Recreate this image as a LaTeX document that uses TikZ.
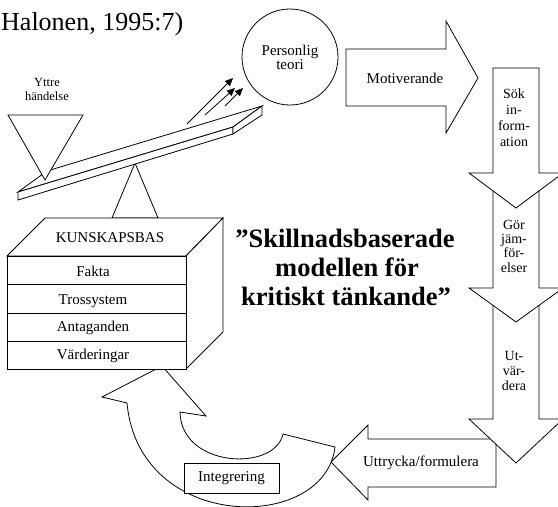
\documentclass[tikz,border=0pt]{standalone}
\usepackage{fontspec}
\setmainfont{Liberation Serif}
\usetikzlibrary{arrows.meta}
\begin{document}
\begin{tikzpicture}[x=1pt,y=-1pt]
\tikzset{
  ln/.style={draw=black, line width=0.8pt, line join=miter},
  shp/.style={ln, fill=white},
  txt/.style={inner sep=0pt, anchor=base, font=\fontsize{15}{18}\selectfont},
  smalltxt/.style={txt, font=\fontsize{12.5}{15}\selectfont},
  coltxt/.style={txt, font=\fontsize{14}{16}\selectfont},
  titletxt/.style={txt, font=\bfseries\fontsize{26.5}{29}\selectfont},
  ptr/.style={ln, -{Triangle[length=8pt,width=7pt]}},
}
\path[use as bounding box] (0,0) rectangle (558,507);
\clip (0,0) rectangle (558,507);

% source line
\node[txt, anchor=base west, font=\fontsize{26}{30}\selectfont] (src) at (1,30) {Halonen, 1995:7)};

% fulcrum
\draw[shp] (135,163) -- (112,218) -- (158,218) -- cycle;
% plank
\draw[shp] (18,192) -- (47,171) -- (262,106) -- (233,127) -- cycle;
\draw[shp] (18,192) -- (233,127) -- (233,134) -- (18,200) -- cycle;
\draw[shp] (233,127) -- (262,106) -- (262,115) -- (233,134) -- cycle;
% weight (Yttre handelse)
\draw[shp] (8,115) -- (83,115) -- (45,180) -- cycle;
\node[smalltxt] (yt1) at (47,86) {Yttre};
\node[smalltxt] (yt2) at (47,100) {händelse};

% small arrows
\coordinate (a1s) at (187,124); \coordinate (a1e) at (233,78);
\coordinate (a2s) at (205,115); \coordinate (a2e) at (235,88);
\coordinate (a3s) at (225,106); \coordinate (a3e) at (243,88);
\draw[ptr] (a1s) -- (a1e);
\draw[ptr] (a2s) -- (a2e);
\draw[ptr] (a3s) -- (a3e);

% personlig teori
\node[shp, circle, minimum size=96pt, inner sep=0pt, align=center,
      font=\fontsize{15}{14}\selectfont] (pt) at (290,57) {Personlig\\teori};

% Motiverande arrow
\draw[shp] (346,49) -- (446,49) -- (446,21) -- (478,78) -- (446,133) -- (446,106) -- (346,106) -- cycle;
\node[txt] (mot) at (405,83) {Motiverande};

% Uttrycka arrow (pointing left)
\draw[shp] (496,439) -- (368,439) -- (368,425) -- (331,462) -- (368,500) -- (368,487) -- (496,487) -- cycle;
\node[txt] (utt) at (421,466) {Uttrycka/formulera};

% down arrows (bottom first)
\draw[shp] (493,288) -- (539,288) -- (539,419) -- (563,419) -- (516,463) -- (469,419) -- (493,419) -- cycle;
\draw[shp] (493,173) -- (539,173) -- (539,288) -- (563,288) -- (516,322) -- (469,288) -- (493,288) -- cycle;
\draw[shp] (493,68) -- (539,68) -- (539,173) -- (563,173) -- (516,208) -- (469,173) -- (493,173) -- cycle;
\node[coltxt] (s1) at (514,98) {Sök};
\node[coltxt] (s2) at (514,114) {in-};
\node[coltxt] (s3) at (514,130) {form-};
\node[coltxt] (s4) at (514,146) {ation};
\node[coltxt] (g1) at (514,229) {Gör};
\node[coltxt] (g2) at (514,243) {jäm-};
\node[coltxt] (g3) at (514,257) {för-};
\node[coltxt] (g4) at (514,272) {elser};
\node[coltxt] (u1) at (514,360) {Ut-};
\node[coltxt] (u2) at (514,375) {vär-};
\node[coltxt] (u3) at (514,390) {dera};

% curved arrow (Integrering)
\draw[shp] (127,403) -- (102,397) -- (162,366) -- (206,416) -- (180,412)
  .. controls (181,468) and (275,472) .. (283,434)
  -- (335,447)
  .. controls (325,533) and (139,533) .. (127,403) -- cycle;
\node[shp, minimum width=95pt, minimum height=30pt, inner sep=0pt,
      font=\fontsize{15}{18}\selectfont] (int) at (231.5,478) {Integrering};

% knowledge base box
\draw[shp] (7,256) -- (45,218) -- (223,218) -- (186,256) -- cycle;
\draw[shp] (186,256) -- (223,218) -- (223,332) -- (186,369) -- cycle;
\draw[shp] (7,256) rectangle (186,369);
\draw[ln] (7,284) -- (186,284);
\draw[ln] (7,313) -- (186,313);
\draw[ln] (7,341) -- (186,341);
\node[txt] (kb) at (110,242) {KUNSKAPSBAS};
\node[txt] (kb1) at (93,276) {Fakta};
\node[txt] (kb2) at (93,304) {Trossystem};
\node[txt] (kb3) at (93,331) {Antaganden};
\node[txt] (kb4) at (93,359) {Värderingar};

% title
\node[titletxt] (t1) at (345,247) {”Skillnadsbaserade};
\node[titletxt] (t2) at (347,276) {modellen för};
\node[titletxt] (t3) at (346,305) {kritiskt tänkande”};
\end{tikzpicture}
\end{document}
